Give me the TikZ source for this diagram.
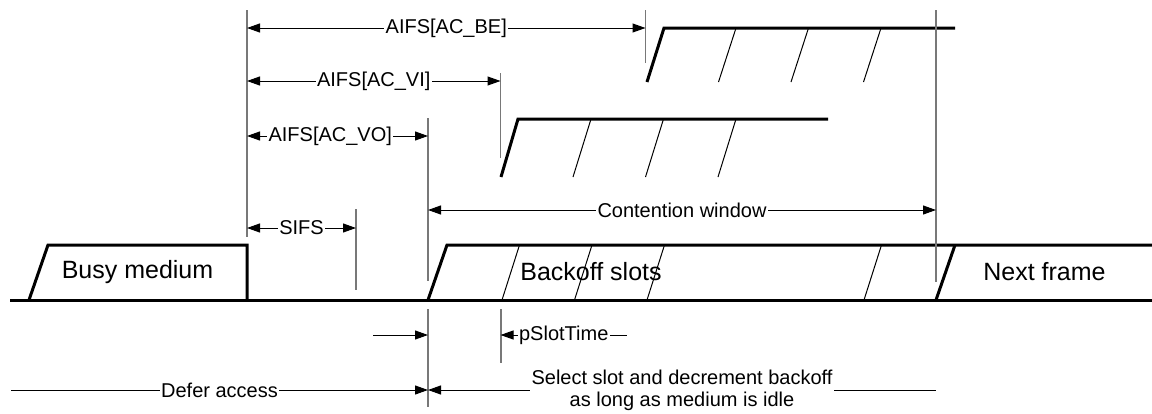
\documentclass[tikz,border=0pt]{standalone}
\usepackage{fontspec}
\setmainfont{Liberation Sans}
\usetikzlibrary{arrows.meta,calc}
\definecolor{GuideGray}{RGB}{120,120,120}

\begin{document}
\begin{tikzpicture}[x=0.5pt,y=-0.5pt,
		>={Triangle[length=6.5pt,width=4.5pt]},
		medium/.style={line width=1.5pt,line join=miter},
		slot/.style={line width=0.5pt},
		guide/.style={GuideGray,line width=0.6pt},
		dim/.style={line width=0.5pt},
		dimlbl/.style={fill=white,inner sep=0.6pt,font=\fontsize{10}{11}\selectfont},
		boxlbl/.style={font=\fontsize{12.5}{14}\selectfont}]
	\useasboundingbox (0,0) rectangle (1152,413);
	\coordinate (tS) at (247,0);
	\coordinate (tSIFS) at (356,0);
	\coordinate (tVO) at (428,0);
	\coordinate (tVI) at (500.5,0);
	\coordinate (tBE) at (645.5,0);
	\coordinate (tCW) at (936,0);
	\coordinate (rBE) at (0,28);
	\coordinate (rVI) at (0,81);
	\coordinate (rVO) at (0,136);
	\coordinate (rCW) at (0,210);
	\coordinate (rSIFS) at (0,228);
	\coordinate (rSlot) at (0,335);
	\coordinate (rDefer) at (0,390);
	\draw[medium] (10,300) -- (1152,300);
	\draw[medium] (29,300) -- (48,245) -- (247,245) -- (247,300);
	\draw[medium] (428,300) -- (447,245) -- (1152,245);
	\draw[medium] (936,300) -- (955,245);
	\draw[medium] (501,177) -- (518,119) -- (828,119);
	\draw[medium] (647,82) -- (664,28) -- (955,28);
	\foreach \x in {502,574.5,647,864} \draw[slot] (\x,300) -- ++(17.5,-55);
	\foreach \x in {573,645.5,718} \draw[slot] (\x,177) -- ++(18,-58);
	\foreach \x in {718.5,791,863.5} \draw[slot] (\x,82) -- ++(17.5,-54);
	\draw[guide] (247,10) -- (247,237);
	\draw[guide] (356,209) -- (356,290);
	\draw[guide] (428,118) -- (428,281);
	\draw[guide] (428,309) -- (428,407);
	\draw[guide] (500.5,73) -- (500.5,158);
	\draw[guide] (645.5,10) -- (645.5,63);
	\draw[guide] (936,10) -- (936,282);
	\draw[guide] (501,309) -- (501,363);
	\node[boxlbl] (busy) at (137.5,272) {Busy medium};
	\node[boxlbl] (backoff) at (591,272) {Backoff slots};
	\node[boxlbl] (next) at (1044.5,272) {Next frame};
	\draw[dim,<->] (tS |- rBE) -- (tBE |- rBE) node[dimlbl,midway] (lblBE) {AIFS[AC\_BE]};
	\draw[dim,<->] (tS |- rVI) -- (tVI |- rVI) node[dimlbl,midway] (lblVI) {AIFS[AC\_VI]};
	\draw[dim,<->] (tS |- rVO) -- (tVO |- rVO) node[dimlbl,pos=0.46] (lblVO) {AIFS[AC\_VO]};
	\draw[dim,<->] (tS |- rSIFS) -- (tSIFS |- rSIFS) node[dimlbl,midway] (lblSIFS) {SIFS};
	\draw[dim,<->] (tVO |- rCW) -- (tCW |- rCW) node[dimlbl,midway] (lblCW) {Contention window};
	\coordinate (deferIn) at (373,335);
	\coordinate (slotEnd) at (627,335);
	\coordinate (deferStart) at (11,390);
	\draw[dim,->] (deferIn) -- (tVO |- rSlot);
	\draw[dim,<-] (tVI |- rSlot) -- (slotEnd) node[dimlbl,midway] (lblSlot) {pSlotTime};
	\draw[dim,->] (deferStart) -- (tVO |- rDefer) node[dimlbl,midway] (lblDefer) {Defer access};
	\draw[dim,<-] (tVO |- rDefer) -- (tCW |- rDefer) node[dimlbl,midway,align=center] (lblSelect) {Select slot and decrement backoff\\as long as medium is idle};
\end{tikzpicture}
\end{document}
